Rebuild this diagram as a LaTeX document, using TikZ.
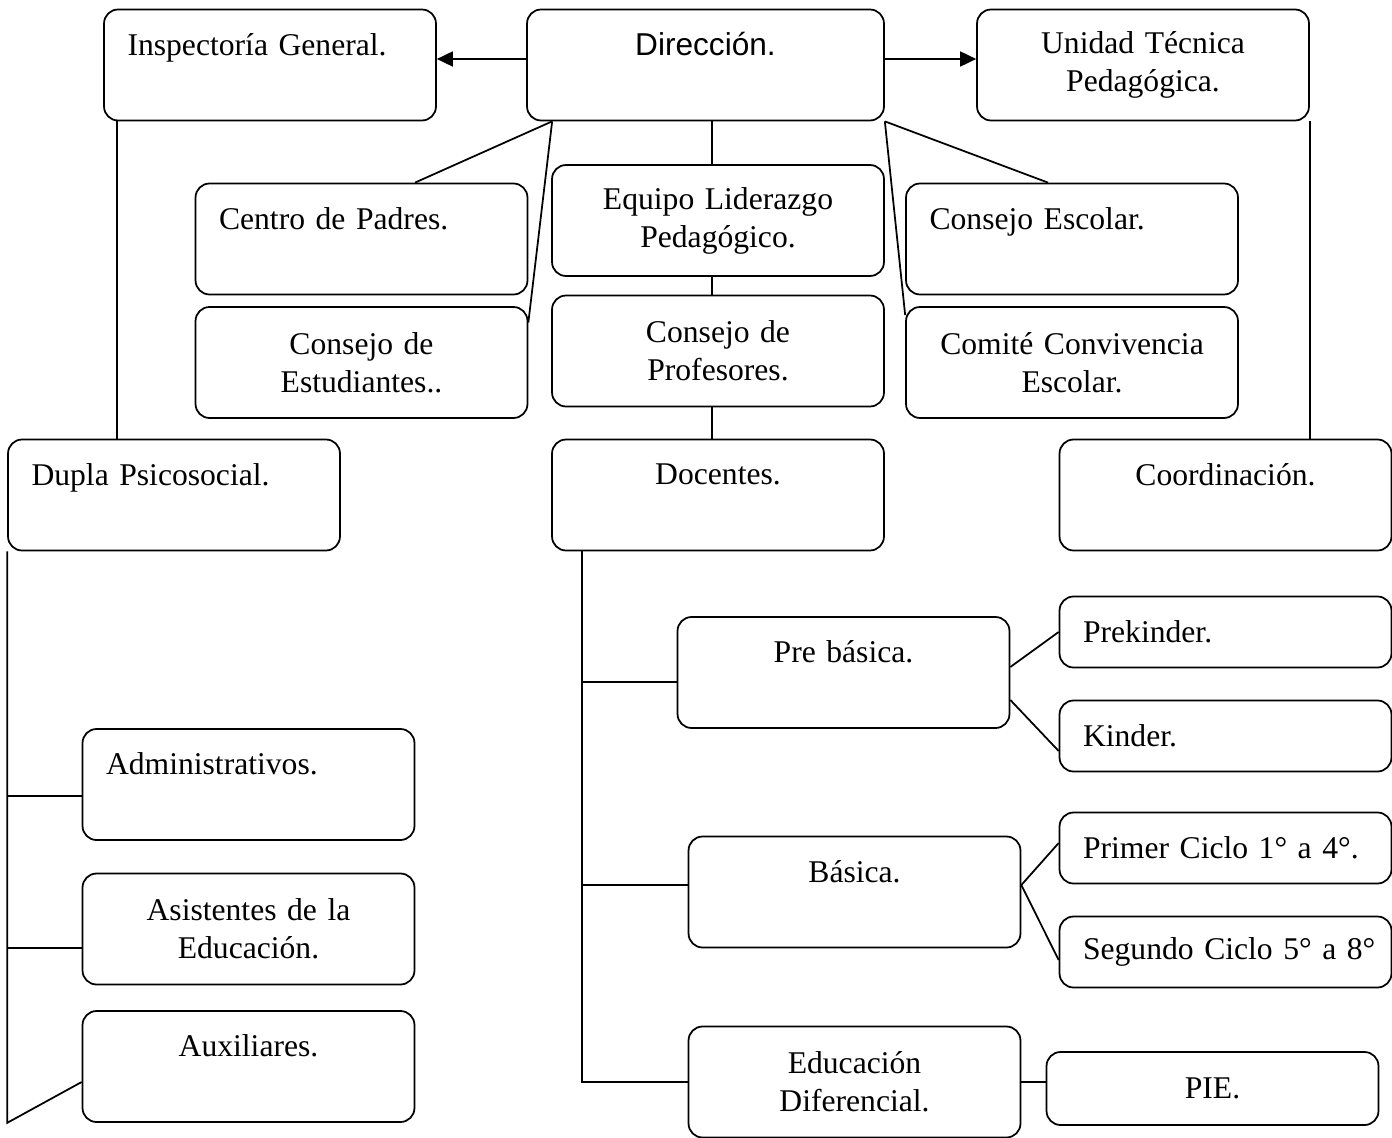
\documentclass[tikz,border=0pt]{standalone}
\usepackage{fontspec}
\setmainfont{Liberation Serif}
\setsansfont{Liberation Sans}
\usepackage{tikz}
\usetikzlibrary{positioning,calc,arrows.meta}

\begin{document}
\begin{tikzpicture}[x=0.02cm,y=-0.02cm,
    box/.style={draw,line width=1pt,rounded corners=0.28cm,minimum width=6.64cm,minimum height=2.22cm,
        text width=5.7cm,inner xsep=0.47cm,inner ysep=0pt,font=\fontsize{18}{21.6}\selectfont},
    lbox/.style={box,align=left},
    cbox/.style={box,align=center},
    sbox/.style={lbox,minimum height=1.42cm},
    link/.style={line width=1pt},
    arr/.style={link,-{Triangle[length=0.32cm,width=0.3cm]}}]
    \useasboundingbox (0,0) rectangle (1392,1138);

    % Top row
    \node[lbox] (insp) at (270,65) {Inspectoría General.\\[-4.5pt]\strut};
    \node[cbox,minimum width=7.14cm,font=\sffamily\fontsize{18}{21.6}\selectfont] (dir) at (705.5,65) {Dirección.\\[-4.5pt]\strut};
    \node[cbox] (utp) at (1143,65) {Unidad Técnica\\Pedagógica.};

    % Councils
    \node[lbox] (padres) at (361.5,239) {Centro de Padres.\\[-4.5pt]\strut};
    \node[cbox] (equipo) at (718,220.5) {Equipo Liderazgo\\Pedagógico.};
    \node[lbox] (cescolar) at (1072,239) {Consejo Escolar.\\[-4.5pt]\strut};
    \node[cbox] (estud) at (361.5,362.5) {Consejo de\\Estudiantes..};
    \node[cbox] (profes) at (718,351) {Consejo de\\Profesores.};
    \node[cbox] (comite) at (1072,362.5) {Comité Convivencia\\Escolar.};

    % Third row
    \node[lbox] (dupla) at (174,495) {Dupla Psicosocial.\\[-4.5pt]\strut};
    \node[cbox] (docentes) at (718,495) {Docentes.\\[-4.5pt]\strut};
    \node[cbox] (coord) at (1225.5,495) {Coordinación.\\[-4.5pt]\strut};

    % Levels
    \node[cbox] (prebas) at (843.5,672.5) {Pre básica.\\[-4.5pt]\strut};
    \node[sbox] (prek) at (1225.5,632) {Prekinder.};
    \node[sbox] (kinder) at (1225.5,736) {Kinder.};
    \node[cbox] (basica) at (854.5,892) {Básica.\\[-4.5pt]\strut};
    \node[sbox] (primer) at (1225.5,848) {\mbox{Primer Ciclo 1° a 4°.}};
    \node[sbox] (segundo) at (1225.5,952) {\mbox{Segundo Ciclo 5° a 8°}};
    \node[cbox] (difer) at (854.5,1082) {Educación\\Diferencial.};
    \node[cbox,minimum height=1.46cm] (pie) at (1212.5,1088.5) {PIE.};

    % Staff
    \node[lbox] (admin) at (248.5,784.5) {Administrativos.\\[-4.5pt]\strut};
    \node[cbox] (asist) at (248.5,929) {Asistentes de la\\Educación.};
    \node[cbox] (aux) at (248.5,1066.5) {Auxiliares.\\[-4.5pt]\strut};

    % Arrows from Direccion
    \draw[arr] ([yshift=0.12cm]dir.west) -- ([yshift=0.12cm]insp.east);
    \draw[arr] ([yshift=0.12cm]dir.east) -- ([yshift=0.12cm]utp.west);

    % Side columns
    \coordinate (ig) at ([xshift=0.28cm]insp.south west);
    \draw[link] (ig) -- (ig |- dupla.north);
    \draw[link] (utp.south east) -- (utp.south east |- coord.north);

    % Councils
    \coordinate (dsw) at ([xshift=0.52cm]dir.south west);
    \draw[link] (dsw) -- ([xshift=1.07cm]padres.north);
    \draw[link] (dsw) -- ([yshift=0.8cm]estud.east);
    \draw[link] (dir.south east) -- ([xshift=-0.48cm]cescolar.north);
    \draw[link] (dir.south east) -- ([yshift=0.95cm]comite.west);

    % Center column
    \coordinate (dc) at ([xshift=0.13cm]dir.south);
    \draw[link] (dc) -- (dc |- equipo.north);
    \draw[link] (dc |- equipo.south) -- (dc |- profes.north);
    \draw[link] (dc |- profes.south) -- (dc |- docentes.north);

    % Dupla bus
    \coordinate (db) at (dupla.south west);
    \draw[link] (db) -- (db |- aux.south) -- ([yshift=-0.31cm]aux.west);
    \coordinate (ad) at ([yshift=-0.23cm]admin.west);
    \draw[link] (db |- ad) -- (ad);
    \coordinate (as) at ([yshift=-0.38cm]asist.west);
    \draw[link] (db |- as) -- (as);

    % Docentes bus
    \coordinate (tb) at ([xshift=0.62cm]docentes.south west);
    \draw[link] (tb) |- (difer.west);
    \coordinate (pb) at ([yshift=-0.19cm]prebas.west);
    \draw[link] (tb |- pb) -- (pb);
    \coordinate (bb) at ([yshift=0.14cm]basica.west);
    \draw[link] (tb |- bb) -- (bb);

    % Sub levels
    \draw[link] ([yshift=0.11cm]prebas.east) -- (prek.west);
    \draw[link] ([yshift=-0.55cm]prebas.east) -- ([yshift=-0.3cm]kinder.west);
    \coordinate (be) at ([yshift=0.14cm]basica.east);
    \draw[link] (be) -- ([yshift=0.1cm]primer.west);
    \draw[link] (be) -- ([yshift=-0.16cm]segundo.west);
    \draw[link] (difer.east) -- (difer.east -| pie.west);
\end{tikzpicture}
\end{document}
